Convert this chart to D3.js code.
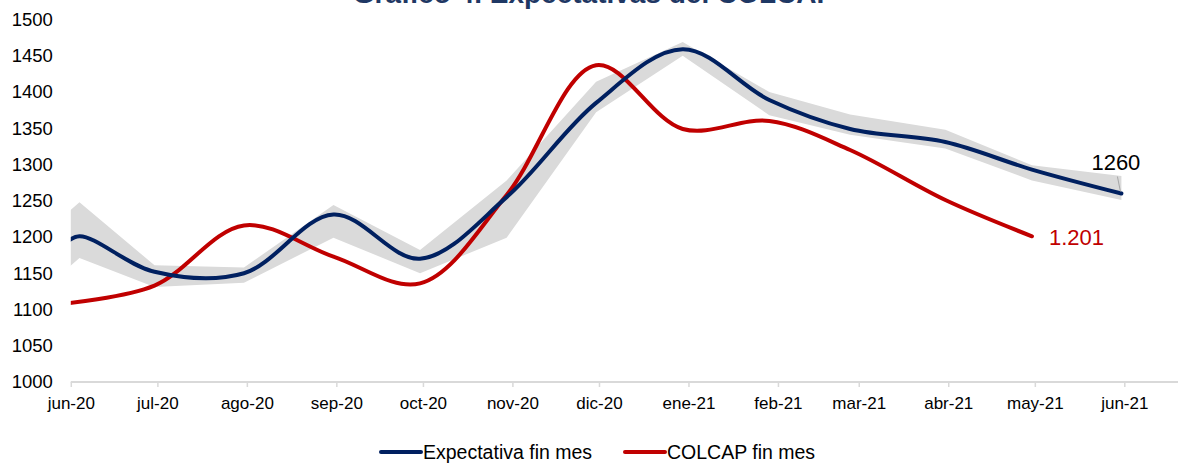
<!DOCTYPE html>
<html>
<head>
<meta charset="utf-8">
<script src="https://cdn.jsdelivr.net/npm/d3@7"></script>
<style>
  body { margin: 0; background: #fff; }
  svg text { font-family: Arial, "Liberation Sans", sans-serif; }
</style>
</head>
<body>
<svg id="chart" width="1181" height="464"></svg>
<script>
// data
const title = "Gráfico 4. Expectativas del COLCAP";
const seriesNames = ["Expectativa fin mes", "COLCAP fin mes"];

const expDates = ["2020-05-29", "2020-06-04", "2020-06-30", "2020-07-31", "2020-08-31", "2020-09-30",
  "2020-10-30", "2020-11-30", "2020-12-30", "2021-01-29", "2021-02-26", "2021-03-31", "2021-04-30", "2021-05-31"];
const expValues = [1188, 1201, 1152, 1150, 1231, 1170, 1255, 1385, 1459, 1389, 1349, 1331, 1293, 1260];
const bandHigh  = [1227, 1248, 1161, 1158, 1244, 1182, 1278, 1414, 1469, 1400, 1369, 1348, 1299, 1284];
const bandLow   = [1150, 1171, 1131, 1137, 1199, 1150, 1199, 1372, 1450, 1368, 1341, 1322, 1278, 1251];

const colcapDates = ["2020-05-29", "2020-06-30", "2020-07-31", "2020-08-31", "2020-09-30", "2020-10-30",
  "2020-11-30", "2020-12-30", "2021-01-29", "2021-02-26", "2021-03-31", "2021-04-30"];
const colcapValues = [1108, 1133, 1216, 1173, 1136, 1258, 1437, 1349, 1360, 1320, 1251, 1201];

const tickDates = ["2020-06-01", "2020-07-01", "2020-08-01", "2020-09-01", "2020-10-01", "2020-11-01", "2020-12-01",
  "2021-01-01", "2021-02-01", "2021-03-01", "2021-04-01", "2021-05-01", "2021-06-01"];
const tickLabels = ["jun-20", "jul-20", "ago-20", "sep-20", "oct-20", "nov-20", "dic-20",
  "ene-21", "feb-21", "mar-21", "abr-21", "may-21", "jun-21"];
const yTicks = [1000, 1050, 1100, 1150, 1200, 1250, 1300, 1350, 1400, 1450, 1500];

const expLabel = "1260";
const colcapLabel = "1.201";

const blue = "#002060", red = "#c00000", bandColor = "#dadada";
const parse = d3.timeParse("%Y-%m-%d");

const svg = d3.select("#chart");

const x = d3.scaleTime()
  .domain([parse(tickDates[0]), parse(tickDates[tickDates.length - 1])])
  .range([70.8, 1124.3]);
const y = d3.scaleLinear().domain([1000, 1500]).range([382, 19.5]);

const exp = expDates.map((d, i) => ({ date: parse(d), v: expValues[i], hi: bandHigh[i], lo: bandLow[i] }));
const colcap = colcapDates.map((d, i) => ({ date: parse(d), v: colcapValues[i] }));

// clip at the axis minimum
svg.append("defs").append("clipPath").attr("id", "plot")
  .append("rect").attr("x", x.range()[0]).attr("y", 0).attr("width", 1181).attr("height", 464);

// title (cut off at the top, as in the source)
svg.append("text")
  .attr("x", 594).attr("y", 3)
  .attr("text-anchor", "middle")
  .attr("font-size", 28).attr("font-weight", "bold")
  .attr("fill", "#1f3864")
  .text(title);

// y axis
const yAxis = svg.append("g")
  .attr("transform", `translate(${x.range()[0]},0)`)
  .call(d3.axisLeft(y).tickValues(yTicks).tickFormat(d3.format("d")).tickSize(0).tickPadding(18));
yAxis.select(".domain").remove();
yAxis.selectAll("text").attr("font-size", 18.5).attr("fill", "#000");

// x axis
const xAxis = svg.append("g")
  .attr("transform", `translate(0,${y(1000)})`)
  .call(d3.axisBottom(x).tickValues(tickDates.map(parse)).tickFormat((d, i) => tickLabels[i])
    .tickSizeOuter(0).tickSize(5).tickPadding(10));
xAxis.select(".domain").remove();
xAxis.selectAll(".tick line").attr("stroke", "#d9d9d9").attr("stroke-width", 1.5);
xAxis.selectAll("text").attr("font-size", 17).attr("fill", "#000");
xAxis.append("line")
  .attr("x1", x.range()[0]).attr("x2", 1178)
  .attr("stroke", "#d9d9d9").attr("stroke-width", 2);

const plot = svg.append("g").attr("clip-path", "url(#plot)");

// range band
plot.append("path")
  .datum(exp)
  .attr("fill", bandColor)
  .attr("d", d3.area().x(d => x(d.date)).y0(d => y(d.lo)).y1(d => y(d.hi)));

const line = d3.line().x(d => x(d.date)).y(d => y(d.v)).curve(d3.curveCatmullRom.alpha(0.5));

plot.append("path").datum(colcap)
  .attr("fill", "none").attr("stroke", red).attr("stroke-width", 4)
  .attr("stroke-linecap", "round").attr("d", line);

plot.append("path").datum(exp)
  .attr("fill", "none").attr("stroke", blue).attr("stroke-width", 4)
  .attr("stroke-linecap", "round").attr("d", line);

// end labels
const lastExp = exp[exp.length - 1];
svg.append("line")
  .attr("x1", x(lastExp.date) - 4).attr("y1", y(lastExp.v) - 17)
  .attr("x2", x(lastExp.date) - 1).attr("y2", y(lastExp.v) - 2)
  .attr("stroke", "#a6a6a6").attr("stroke-width", 1);
svg.append("text")
  .attr("x", x(lastExp.date) - 30).attr("y", y(lastExp.v) - 24)
  .attr("font-size", 22).attr("fill", "#000")
  .text(expLabel);

const lastCol = colcap[colcap.length - 1];
svg.append("text")
  .attr("x", x(lastCol.date) + 17).attr("y", y(lastCol.v) + 9)
  .attr("font-size", 22).attr("fill", red)
  .text(colcapLabel);

// legend
const legend = svg.append("g").attr("transform", "translate(0,452)");
[[381, blue, seriesNames[0]], [625, red, seriesNames[1]]].forEach(([lx, c, name]) => {
  legend.append("line").attr("x1", lx).attr("x2", lx + 40)
    .attr("stroke", c).attr("stroke-width", 4).attr("stroke-linecap", "round");
  legend.append("text").attr("x", lx + 42).attr("y", 7)
    .attr("font-size", 19.5).attr("fill", "#000").text(name);
});
</script>
</body>
</html>
